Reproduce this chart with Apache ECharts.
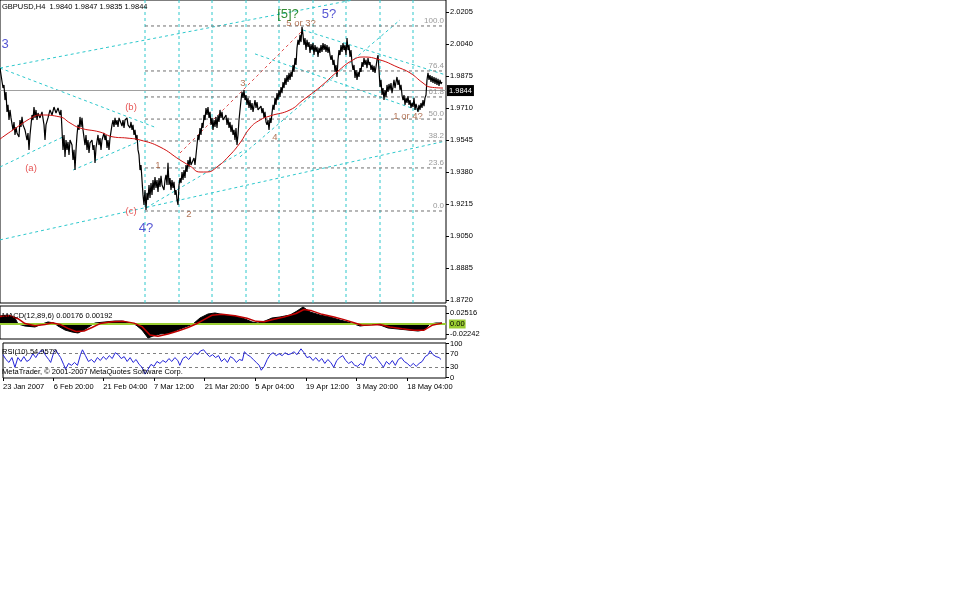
<!DOCTYPE html>
<html><head><meta charset="utf-8">
<script src="https://cdn.jsdelivr.net/npm/echarts@6/dist/echarts.min.js"></script>
<style>html,body{margin:0;padding:0;background:#fff}#c{width:958px;height:609px}</style>
</head><body><div id="c"></div>
<script>
// ---- data (bar index, value) ----
const priceBars = [[0,1.9916],[2,1.9906],[3,1.9813],[4,1.9829],[5,1.9751],[6,1.9793],[7,1.9690],[8,1.9726],[9,1.9648],[10,1.9700],[11,1.9659],[13,1.9597],[14,1.9638],[15,1.9571],[16,1.9612],[17,1.9581],[19,1.9561],[20,1.9648],[21,1.9612],[22,1.9664],[23,1.9623],[25,1.9597],[27,1.9545],[28,1.9581],[29,1.9494],[30,1.9571],[32,1.9674],[33,1.9648],[34,1.9715],[35,1.9659],[36,1.9700],[37,1.9648],[38,1.9684],[40,1.9659],[42,1.9690],[44,1.9623],[45,1.9545],[46,1.9623],[48,1.9659],[50,1.9700],[52,1.9674],[54,1.9715],[56,1.9684],[58,1.9710],[60,1.9674],[61,1.9700],[63,1.9494],[64,1.9571],[65,1.9458],[66,1.9545],[67,1.9494],[68,1.9535],[69,1.9468],[70,1.9545],[72,1.9519],[73,1.9442],[74,1.9494],[75,1.9390],[76,1.9494],[77,1.9571],[78,1.9623],[79,1.9597],[80,1.9664],[81,1.9612],[82,1.9659],[83,1.9597],[85,1.9519],[86,1.9571],[87,1.9494],[88,1.9545],[89,1.9478],[90,1.9530],[92,1.9545],[93,1.9494],[94,1.9519],[95,1.9427],[96,1.9504],[98,1.9571],[99,1.9519],[100,1.9555],[101,1.9494],[102,1.9545],[104,1.9581],[105,1.9545],[106,1.9571],[107,1.9504],[108,1.9545],[109,1.9494],[110,1.9555],[112,1.9623],[113,1.9648],[114,1.9612],[115,1.9659],[116,1.9623],[117,1.9648],[118,1.9612],[119,1.9659],[121,1.9664],[122,1.9617],[123,1.9648],[124,1.9607],[125,1.9648],[127,1.9659],[128,1.9623],[130,1.9607],[131,1.9638],[132,1.9597],[133,1.9623],[134,1.9571],[135,1.9597],[136,1.9545],[137,1.9571],[138,1.9494],[139,1.9468],[140,1.9390],[141,1.9416],[142,1.9339],[143,1.9262],[144,1.9210],[145,1.9287],[146,1.9184],[147,1.9272],[148,1.9236],[149,1.9313],[150,1.9246],[151,1.9323],[152,1.9262],[153,1.9339],[154,1.9287],[155,1.9354],[156,1.9298],[157,1.9339],[158,1.9277],[159,1.9349],[160,1.9303],[161,1.9360],[162,1.9313],[164,1.9287],[165,1.9339],[166,1.9365],[167,1.9313],[168,1.9427],[169,1.9313],[170,1.9349],[171,1.9287],[172,1.9339],[173,1.9298],[174,1.9329],[175,1.9262],[176,1.9287],[177,1.9236],[178,1.9210],[179,1.9313],[180,1.9349],[181,1.9323],[182,1.9380],[183,1.9339],[184,1.9390],[185,1.9349],[186,1.9416],[187,1.9380],[188,1.9442],[189,1.9406],[190,1.9458],[191,1.9416],[194,1.9452],[195,1.9416],[196,1.9468],[197,1.9519],[198,1.9571],[199,1.9545],[200,1.9607],[201,1.9571],[202,1.9633],[203,1.9607],[204,1.9674],[205,1.9648],[206,1.9710],[207,1.9674],[208,1.9715],[209,1.9659],[210,1.9690],[211,1.9623],[212,1.9659],[213,1.9597],[214,1.9648],[215,1.9612],[216,1.9664],[217,1.9607],[218,1.9674],[219,1.9638],[220,1.9700],[221,1.9659],[222,1.9690],[223,1.9648],[225,1.9638],[226,1.9674],[227,1.9623],[228,1.9659],[229,1.9607],[230,1.9638],[231,1.9586],[232,1.9623],[233,1.9571],[234,1.9597],[235,1.9545],[236,1.9607],[237,1.9519],[238,1.9571],[239,1.9648],[240,1.9700],[241,1.9751],[242,1.9793],[243,1.9762],[244,1.9803],[245,1.9751],[246,1.9777],[247,1.9726],[248,1.9762],[249,1.9710],[250,1.9751],[251,1.9700],[252,1.9736],[253,1.9690],[255,1.9751],[256,1.9710],[257,1.9741],[258,1.9700],[260,1.9690],[261,1.9720],[262,1.9684],[263,1.9710],[264,1.9659],[265,1.9690],[266,1.9638],[267,1.9623],[268,1.9648],[269,1.9597],[270,1.9659],[271,1.9633],[272,1.9684],[273,1.9726],[274,1.9700],[275,1.9762],[276,1.9726],[277,1.9787],[278,1.9751],[279,1.9803],[280,1.9767],[281,1.9818],[282,1.9787],[283,1.9844],[284,1.9813],[285,1.9865],[286,1.9829],[287,1.9880],[288,1.9844],[289,1.9891],[290,1.9855],[291,1.9896],[292,1.9870],[293,1.9932],[294,1.9896],[295,1.9968],[296,1.9932],[297,2.0020],[298,2.0061],[299,2.0035],[300,2.0087],[301,2.0050],[302,2.0128],[303,2.0087],[304,2.0035],[305,2.0071],[306,2.0009],[307,2.0061],[308,2.0025],[309,2.0050],[310,1.9994],[311,2.0040],[312,2.0009],[313,2.0045],[314,1.9983],[315,2.0035],[316,1.9999],[317,2.0025],[318,1.9973],[319,2.0020],[320,1.9994],[321,2.0035],[322,1.9999],[323,2.0045],[324,2.0009],[325,2.0040],[326,1.9999],[327,2.0035],[328,1.9994],[329,2.0025],[330,1.9983],[331,1.9958],[332,1.9983],[333,1.9932],[334,1.9958],[335,1.9896],[336,1.9932],[337,1.9870],[338,1.9958],[339,2.0009],[340,1.9983],[341,2.0035],[342,1.9999],[343,2.0045],[344,2.0009],[345,2.0035],[346,1.9983],[347,2.0071],[348,2.0009],[349,2.0035],[350,1.9973],[351,2.0009],[352,1.9942],[353,1.9906],[354,1.9932],[355,1.9865],[356,1.9906],[357,1.9855],[358,1.9896],[359,1.9870],[360,1.9916],[361,1.9896],[362,1.9947],[363,1.9922],[364,1.9968],[365,1.9932],[366,1.9958],[367,1.9916],[368,1.9968],[369,1.9932],[370,1.9947],[371,1.9906],[372,1.9932],[373,1.9896],[374,1.9927],[375,1.9891],[376,1.9922],[377,1.9958],[378,1.9983],[379,1.9906],[380,1.9818],[381,1.9855],[382,1.9777],[383,1.9813],[384,1.9751],[385,1.9803],[386,1.9767],[387,1.9829],[388,1.9793],[389,1.9834],[390,1.9803],[391,1.9839],[392,1.9787],[393,1.9818],[394,1.9855],[395,1.9813],[396,1.9844],[397,1.9870],[398,1.9829],[399,1.9855],[400,1.9803],[401,1.9829],[402,1.9777],[403,1.9751],[404,1.9777],[405,1.9726],[406,1.9762],[407,1.9736],[408,1.9772],[409,1.9726],[410,1.9751],[411,1.9710],[412,1.9736],[413,1.9715],[414,1.9762],[415,1.9700],[416,1.9731],[417,1.9710],[418,1.9690],[419,1.9726],[420,1.9700],[421,1.9736],[422,1.9710],[423,1.9751],[424,1.9720],[425,1.9762],[426,1.9777],[427,1.9855],[428,1.9891],[429,1.9855],[430,1.9880],[431,1.9844],[432,1.9875],[433,1.9839],[434,1.9870],[435,1.9834],[436,1.9865],[437,1.9829],[438,1.9860],[439,1.9824],[440,1.9855],[441,1.9834],[442,1.9844]];
const maLine = [[0,1.9550],[13,1.9597],[33,1.9664],[40,1.9674],[60,1.9664],[70,1.9633],[80,1.9607],[100,1.9586],[113,1.9561],[127,1.9555],[140,1.9545],[160,1.9509],[180,1.9442],[190,1.9411],[200,1.9380],[207,1.9380],[217,1.9406],[230,1.9468],[240,1.9530],[250,1.9607],[260,1.9648],[270,1.9669],[290,1.9700],[303,1.9751],[320,1.9818],[337,1.9896],[353,1.9958],[363,1.9973],[380,1.9958],[397,1.9922],[410,1.9891],[423,1.9839],[430,1.9818],[443,1.9813]];
const macdHist = [[0,0.0182],[8,0.0205],[15,0.0137],[18,0],[25,-0.0046],[35,-0.0068],[42,0],[48,0.0046],[54,0.0023],[58,-0.0046],[65,-0.0137],[72,-0.0182],[78,-0.0205],[84,-0.0137],[90,-0.0046],[95,0.0023],[105,0.0046],[115,0.0068],[122,0.0068],[130,0.0023],[136,-0.0023],[142,-0.0137],[148,-0.0319],[153,-0.0274],[160,-0.0228],[170,-0.0205],[180,-0.0114],[188,-0.0046],[193,0],[200,0.0137],[208,0.0228],[215,0.0251],[225,0.0205],[235,0.0182],[245,0.0114],[252,0.0046],[258,0.0023],[265,0.0068],[272,0.0137],[280,0.0160],[290,0.0205],[297,0.0296],[303,0.0388],[310,0.0274],[320,0.0205],[330,0.0160],[340,0.0091],[348,0.0046],[354,0],[360,-0.0046],[368,-0.0023],[375,0],[380,-0.0023],[388,-0.0091],[398,-0.0114],[408,-0.0137],[418,-0.0160],[424,-0.0137],[430,0],[436,0.0023],[442,0.0023]];
const macdSignal = [[0,0.0170],[10,0.0190],[18,0.0120],[25,0.0010],[35,-0.0040],[45,-0.0010],[52,0.0030],[60,-0.0010],[68,-0.0100],[76,-0.0170],[84,-0.0160],[92,-0.0080],[100,0.0010],[112,0.0050],[124,0.0060],[134,0.0020],[142,-0.0060],[150,-0.0250],[158,-0.0280],[168,-0.0230],[178,-0.0160],[188,-0.0080],[196,0.0000],[204,0.0100],[212,0.0200],[222,0.0220],[235,0.0190],[247,0.0130],[256,0.0060],[264,0.0050],[274,0.0110],[284,0.0160],[296,0.0240],[304,0.0330],[312,0.0300],[322,0.0220],[334,0.0160],[344,0.0100],[354,0.0030],[362,-0.0030],[372,-0.0020],[380,-0.0010],[390,-0.0070],[402,-0.0110],[414,-0.0140],[424,-0.0140],[432,-0.0030],[442,0.0020]];
const rsiLine = [[0,67.1],[3,52.9],[6,44.3],[9,58.6],[12,30.0],[15,58.6],[18,47.1],[21,61.4],[24,47.1],[27,52.9],[30,70.0],[33,58.6],[36,72.9],[40,81.4],[43,64.3],[46,52.9],[48,44.3],[51,72.9],[53,81.4],[56,67.1],[58,58.6],[61,38.6],[63,24.3],[66,41.4],[69,35.7],[72,44.3],[75,35.7],[78,67.1],[80,81.4],[83,64.3],[86,47.1],[89,52.9],[92,44.3],[95,58.6],[98,50.0],[101,61.4],[104,52.9],[107,64.3],[110,55.7],[113,72.9],[116,67.1],[119,55.7],[122,61.4],[125,47.1],[128,58.6],[131,44.3],[134,52.9],[137,38.6],[140,30.0],[143,10.0],[146,24.3],[149,38.6],[152,32.9],[155,47.1],[158,41.4],[161,50.0],[164,44.3],[167,55.7],[170,47.1],[173,58.6],[176,50.0],[178,35.7],[181,55.7],[184,61.4],[187,52.9],[190,64.3],[193,72.9],[196,67.1],[199,78.6],[202,81.4],[205,70.0],[208,61.4],[211,67.1],[214,58.6],[217,64.3],[220,47.1],[223,55.7],[226,44.3],[229,61.4],[232,55.7],[235,44.3],[238,52.9],[241,50.0],[243,75.7],[246,67.1],[249,61.4],[252,52.9],[255,44.3],[258,35.7],[260,21.4],[263,32.9],[266,52.9],[269,67.1],[272,72.9],[275,64.3],[278,70.0],[281,64.3],[284,72.9],[287,67.1],[290,70.0],[293,75.7],[296,67.1],[298,75.7],[300,84.3],[303,72.9],[306,58.6],[309,61.4],[312,50.0],[315,58.6],[318,47.1],[321,55.7],[324,41.4],[327,52.9],[330,44.3],[333,30.0],[336,50.0],[339,58.6],[342,64.3],[345,50.0],[348,41.4],[351,47.1],[354,35.7],[357,32.9],[360,41.4],[363,35.7],[366,61.4],[369,67.1],[372,55.7],[375,61.4],[378,50.0],[381,38.6],[383,30.0],[386,47.1],[389,38.6],[392,50.0],[395,35.7],[398,52.9],[401,58.6],[404,47.1],[407,41.4],[410,32.9],[413,41.4],[416,32.9],[419,41.4],[422,47.1],[425,61.4],[428,67.1],[430,78.6],[433,67.1],[436,61.4],[439,58.6],[441,52.9]];

const priceTicks = [1.8720,1.8885,1.9050,1.9215,1.9380,1.9545,1.9710,1.9875,2.0040,2.0205];
const macdTicks = [0.02516,-0.02242];
const rsiTicks = [0,30,70,100];
const rsiLevels = [70,30];
const timeTicks = [0,51,101,152,203,254,305,356,407];
const timeLabels = ['23 Jan 2007','6 Feb 20:00','21 Feb 04:00','7 Mar 12:00','21 Mar 20:00','5 Apr 04:00','19 Apr 12:00','3 May 20:00','18 May 04:00'];
const separatorBars = [145,179,212,246,279,313,346,380,413];
const fibLevels = [2.0133,1.9901,1.9767,1.9653,1.9540,1.9401,1.9179];
const fibNames = ['100.0','76.4','61.8','50.0','38.2','23.6','0.0'];
const fibStartBar = 145;
const lastBar = 446;
const lastPrice = 1.9844;
const priceMin = 1.87046, priceMax = 2.02669;
const cyanLines = [
  [[0,1.9916],[353,2.0267]],
  [[0,1.9030],[446,1.9540]],
  [[0,1.9916],[157,1.9607]],
  [[0,1.9406],[63,1.9561]],
  [[73,1.9390],[140,1.9540]],
  [[146,1.9195],[245,1.9494]],
  [[240,1.9458],[400,2.0164]],
  [[303,2.0112],[446,1.9880]],
  [[255,1.9989],[420,1.9695]]
];
const redLines = [[[180,1.9478],[303,2.0112]]];
const labelsBlue = [[5,2.0040,'3'],[329,2.0195,'5?'],[146,1.9091,'4?']];
const labelsRed = [[131,1.9715,'(b)'],[31,1.9401,'(a)'],[131,1.9179,'(c)']];
const labelsBrown = [[158,1.9416,'1'],[189,1.9164,'2'],[243,1.9839,'3'],[275,1.9561,'4'],[301,2.0148,'5 or 3?'],[408,1.9669,'1 or 4?']];
const labelsGreen = [[288,2.0195,'[5]?']];
const headerText = 'GBPUSD,H4  1.9840 1.9847 1.9835 1.9844';
const macdText = 'MACD(12,89,6) 0.00176 0.00192';
const rsiText = 'RSI(10) 54.9579';
const copyText = 'MetaTrader, \u00a9 2001-2007 MetaQuotes Software Corp.';

// ---- chart ----
const F = '"Liberation Sans", Arial, sans-serif';
const FS = 7.5;
const CYAN = '#2EC8CC';
const chart = echarts.init(document.getElementById('c'), null, {renderer:'canvas'});

function txtSeries(arr, color, size, extra) {
  return {
    type:'scatter', xAxisIndex:0, yAxisIndex:0, symbolSize:1, silent:true, z:20,
    itemStyle:{color:'rgba(0,0,0,0)'},
    data: arr.map(a => ({value:[a[0],a[1]], name:a[2]})),
    label: Object.assign({show:true, position:'inside', formatter:'{b}', color:color,
      fontFamily:F, fontSize:size}, extra || {})
  };
}
function seg(pts, color, dash, idx) {
  return {type:'line', xAxisIndex:idx||0, yAxisIndex:idx||0, data:pts, symbol:'none', silent:true,
    lineStyle:{color:color, width:1, type:dash}, z:3};
}

const series = [];
separatorBars.forEach(b => series.push(seg([[b,priceMin],[b,priceMax]], CYAN, [3,3])));
cyanLines.forEach(l => series.push(seg(l, CYAN, [3,3])));
redLines.forEach(l => series.push(seg(l, '#E05050', [3,3])));
fibLevels.forEach(v => series.push(seg([[fibStartBar,v],[lastBar,v]], '#707070', [3,3])));
series.push({
  type:'line', xAxisIndex:0, yAxisIndex:0, data:priceBars, symbol:'none', z:5,
  lineStyle:{color:'#000', width:1.2},
  markLine:{silent:true, symbol:'none', animation:false, label:{show:false},
    data:[
      {yAxis:lastPrice, lineStyle:{color:'#A0A0A0', type:'solid', width:1},
       label:{show:true, position:'end', formatter:lastPrice.toFixed(4), color:'#fff',
         backgroundColor:'#000', padding:[2,2,1,2], distance:1, fontFamily:F, fontSize:FS}}
    ]}
});
series.push({type:'line', xAxisIndex:0, yAxisIndex:0, data:maLine, symbol:'none', smooth:true, z:6,
  lineStyle:{color:'#D01010', width:1}});
series.push(txtSeries(labelsBlue, '#2B2BC8', 13));
series.push(txtSeries(labelsRed, '#E02828', 9.5));
series.push(txtSeries(labelsBrown, '#A0522D', 9.5));
series.push(txtSeries(labelsGreen, '#007000', 13));
series.push(txtSeries(fibLevels.map((v,i)=>[lastBar-2, v, fibNames[i]]), '#808080', 8,
  {align:'right', verticalAlign:'bottom', offset:[0,-1]}));
series.push({type:'line', xAxisIndex:1, yAxisIndex:1, data:macdHist, symbol:'none', z:4,
  lineStyle:{color:'#000', width:1}, areaStyle:{color:'#000', opacity:1, origin:0}});
series.push({type:'line', xAxisIndex:1, yAxisIndex:1, data:macdSignal, symbol:'none', z:5,
  lineStyle:{color:'#C00000', width:1.5},
  markLine:{silent:true, symbol:'none', animation:false,
    data:[{yAxis:0, lineStyle:{color:'#9ACD32', type:'solid', width:2},
      label:{show:true, position:'end', formatter:'0.00', color:'#000', backgroundColor:'#9ACD32',
        padding:[1,1,0,1], distance:3, fontFamily:F, fontSize:FS}}]}});
series.push({type:'line', xAxisIndex:2, yAxisIndex:2, data:rsiLine, symbol:'none', z:5,
  lineStyle:{color:'#2424D8', width:1},
  markLine:{silent:true, symbol:'none', animation:false, label:{show:false},
    data: rsiLevels.map(v => ({yAxis:v, lineStyle:{color:'#808080', type:[3,3], width:1}}))}});

const gridBase = {show:true, borderColor:'#000', borderWidth:1, backgroundColor:'transparent', containLabel:false};
const axisTxt = {color:'#000', fontFamily:F, fontSize:FS};

function xAx(i, showLabels) {
  return {type:'value', gridIndex:i, min:0, max:lastBar, show:true, position:'bottom',
    axisLine:{show:false, onZero:false}, splitLine:{show:false},
    axisTick:{show:showLabels, customValues:timeTicks, length:3, lineStyle:{color:'#000'}},
    axisLabel:Object.assign({show:showLabels, customValues:timeTicks, align:'left', margin:5,
      formatter: v => timeLabels[timeTicks.indexOf(v)] || ''}, axisTxt)};
}
function yAx(i, min, max, ticks, fmt) {
  return {type:'value', gridIndex:i, position:'right', min:min, max:max,
    axisLine:{show:false, onZero:false}, splitLine:{show:false},
    axisTick:{show:true, customValues:ticks, length:3, lineStyle:{color:'#000'}},
    axisLabel:Object.assign({show:true, customValues:ticks, margin:4, formatter:fmt}, axisTxt)};
}

chart.setOption({
  animation:false,
  backgroundColor:'#fff',
  title:[
    {text:headerText, left:2, top:3, padding:0, textStyle:Object.assign({fontWeight:'normal'}, axisTxt)},
    {text:macdText, left:2, top:312, padding:0, textStyle:Object.assign({fontWeight:'normal'}, axisTxt)},
    {text:rsiText, left:2, top:348, padding:0, textStyle:Object.assign({fontWeight:'normal'}, axisTxt)},
    {text:copyText, left:2, top:368, padding:0, textStyle:Object.assign({fontWeight:'normal'}, axisTxt)}
  ],
  grid:[
    Object.assign({left:0, top:0, width:446, height:303}, gridBase),
    Object.assign({left:0, top:306, width:446, height:33}, gridBase),
    Object.assign({left:0, top:343, width:446, height:35}, gridBase)
  ],
  xAxis:[xAx(0,false), xAx(1,false), xAx(2,true)],
  yAxis:[
    yAx(0, priceMin, priceMax, priceTicks, v => v.toFixed(4)),
    yAx(1, -0.0342, 0.04104, macdTicks, v => v.toFixed(5)),
    yAx(2, -1.4, 101.4, rsiTicks, v => String(Math.round(v)))
  ],
  series:series
});
</script></body></html>
